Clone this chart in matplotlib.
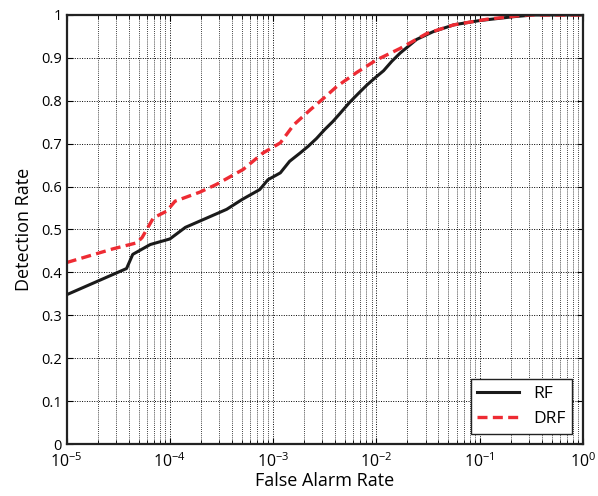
import matplotlib
matplotlib.use("Agg")
import matplotlib.pyplot as plt
from matplotlib.ticker import LogLocator, NullFormatter
import numpy as np

# RF curve (log10 false alarm rate, detection rate)
rf_logfar = [-5.0, -4.42, -4.36, -4.19, -4.0, -3.85, -3.64, -3.45, -3.30, -3.13,
             -3.05, -2.93, -2.84, -2.74, -2.66, -2.58, -2.50, -2.42, -2.35, -2.26,
             -2.17, -2.09, -2.0, -1.93, -1.85, -1.77, -1.61, -1.45, -1.25, -1.0,
             -0.67, -0.48, 0.0]
rf_det = [0.348, 0.409, 0.442, 0.465, 0.478, 0.505, 0.527, 0.547, 0.570, 0.593,
          0.616, 0.632, 0.659, 0.678, 0.694, 0.712, 0.733, 0.752, 0.771, 0.796,
          0.818, 0.837, 0.856, 0.870, 0.892, 0.911, 0.943, 0.961, 0.977, 0.987,
          0.996, 1.0, 1.0]

# DRF curve
drf_logfar = [-5.0, -4.55, -4.32, -4.27, -4.16, -4.03, -3.95, -3.71, -3.55, -3.29,
              -3.10, -2.93, -2.80, -2.64, -2.51, -2.38, -2.19, -2.0, -1.77, -1.51,
              -1.25, -0.93, -0.55, 0.0]
drf_det = [0.423, 0.455, 0.469, 0.481, 0.527, 0.543, 0.566, 0.587, 0.605, 0.640,
           0.678, 0.702, 0.744, 0.779, 0.806, 0.834, 0.866, 0.895, 0.922, 0.957,
           0.977, 0.990, 1.0, 1.0]

plt.rcParams["font.family"] = ["Open Sans", "DejaVu Sans"]
plt.rcParams["mathtext.default"] = "regular"

fig = plt.figure(figsize=(5.98, 4.96), dpi=100)
ax = fig.add_axes([0.1115, 0.1048, 0.863, 0.865])

ax.plot(10 ** np.array(rf_logfar), rf_det, color="#1a1a1a", linewidth=2.2, label="RF")
ax.plot(10 ** np.array(drf_logfar), drf_det, color="#ee2b33", linewidth=2.4,
        linestyle=(0, (3, 1.6)), label="DRF")

ax.set_xscale("log")
ax.set_xlim(1e-5, 1)
ax.set_ylim(0, 1)
ax.xaxis.set_major_locator(LogLocator(base=10, numticks=10))
ax.xaxis.set_minor_locator(LogLocator(base=10, subs=np.arange(2, 10), numticks=20))
ax.xaxis.set_minor_formatter(NullFormatter())
ax.set_yticks(np.arange(0, 1.01, 0.1))
ax.set_yticklabels(["0", "0.1", "0.2", "0.3", "0.4", "0.5", "0.6", "0.7", "0.8", "0.9", "1"])

ax.grid(True, which="major", color="black", linestyle=(0, (1, 1.5)), linewidth=0.7)
ax.grid(True, which="minor", axis="x", color="black", linestyle=(0, (1, 1.5)), linewidth=0.6)

ax.tick_params(which="both", direction="in", top=True, right=True, labelsize=10.5,
               color="black")
ax.tick_params(axis="x", labelsize=11.5)
ax.tick_params(which="major", length=4)
ax.tick_params(which="minor", length=3)
ax.tick_params(axis="x", pad=6)
for s in ax.spines.values():
    s.set_linewidth(1.6)
    s.set_color("#222222")

ax.set_xlabel("False Alarm Rate", fontsize=13, labelpad=1)
ax.set_ylabel("Detection Rate", fontsize=13, labelpad=6)

leg = ax.legend(loc="lower right", fontsize=12.5, fancybox=False, framealpha=1,
                edgecolor="#222222", handlelength=2.4, borderaxespad=0.6)
leg.get_frame().set_linewidth(1.0)

fig.savefig("out.png", dpi=100)
